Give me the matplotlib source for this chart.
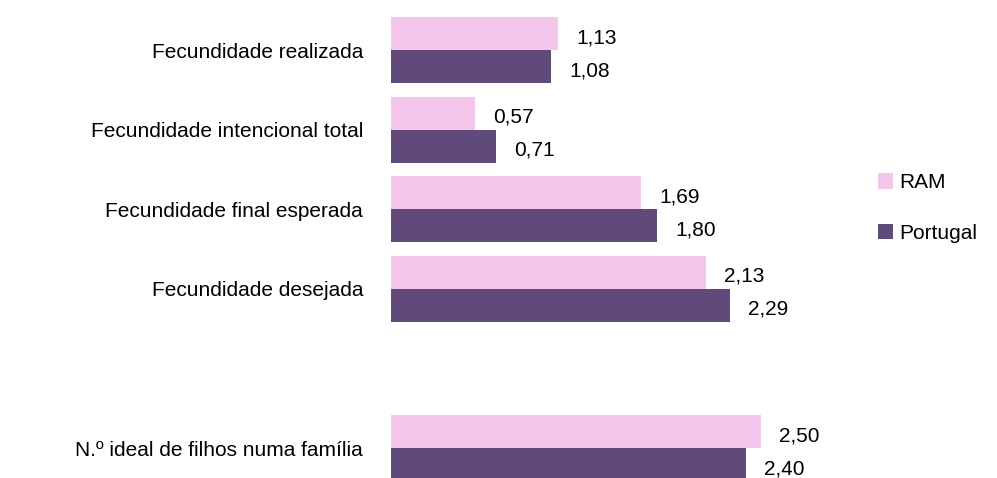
import matplotlib.pyplot as plt
import numpy as np

plt.rcParams['font.family'] = ['Liberation Sans', 'DejaVu Sans']

categories = ["Fecundidade realizada", "Fecundidade intencional total",
              "Fecundidade final esperada", "Fecundidade desejada",
              "N.º ideal de filhos numa família"]
ram = [1.13, 0.57, 1.69, 2.13, 2.50]
portugal = [1.08, 0.71, 1.80, 2.29, 2.40]

# one empty slot before the last category
positions = np.array([0, 1, 2, 3, 5])
bar_h = 0.415

fig = plt.figure(figsize=(9.97, 4.78), dpi=100)
ax = fig.add_axes([391 / 997, 0, 459 / 997, 1])

b1 = ax.barh(positions - bar_h / 2, ram, height=bar_h, color="#F5C6E9", label="RAM")
b2 = ax.barh(positions + bar_h / 2, portugal, height=bar_h, color="#604A7B", label="Portugal")

for bars, vals in [(b1, ram), (b2, portugal)]:
    for rect, v in zip(bars, vals):
        ax.annotate(f"{v:.2f}".replace(".", ","),
                    xy=(rect.get_width(), rect.get_y() + rect.get_height() / 2),
                    xytext=(13, -3), textcoords="offset points",
                    va="center", ha="left", fontsize=15)

ax.set_xlim(0, 459 / 148)
ax.set_ylim(5 + 30 / 79.6, -50 / 79.6)
ax.set_yticks(positions)
ax.set_yticklabels(categories, fontsize=15)
ax.tick_params(axis="y", length=0, pad=20)
ax.set_xticks([])
for s in ax.spines.values():
    s.set_visible(False)

fig.legend(handles=[b1, b2], labels=["RAM", "Portugal"], loc="center left",
           bbox_to_anchor=(859 / 997, 1 - 208 / 478), frameon=False, fontsize=15,
           handlelength=0.75, handleheight=0.75, handletextpad=0.3, labelspacing=1.5)

fig.savefig("out.png", dpi=100)
